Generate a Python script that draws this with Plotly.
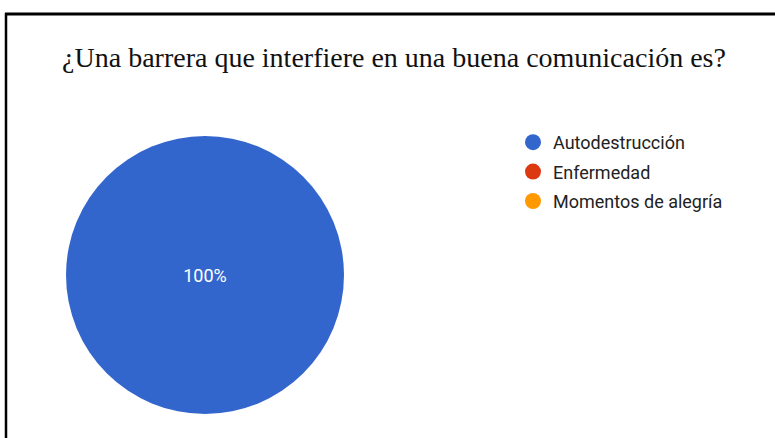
import plotly.graph_objects as go

categories = ["Autodestrucción", "Enfermedad", "Momentos de alegría"]
values = [100, 0, 0]
colors = ["#3366cc", "#dc3912", "#ff9900"]
title_text = "¿Una barrera que interfiere en una buena comunicación es?"

W, H = 775, 438
cx, cy, r = 205, 275, 139

fig = go.Figure()
fig.add_trace(go.Pie(
    labels=categories, values=values, sort=False, direction="clockwise",
    marker=dict(colors=colors, line=dict(width=0)),
    textinfo="percent", textposition="inside",
    insidetextfont=dict(family="Roboto, Arial", size=18, color="white"),
    showlegend=False,
    domain=dict(x=[(cx - r) / W, (cx + r) / W], y=[(H - cy - r) / H, (H - cy + r) / H]),
))
for i, (c, col) in enumerate(zip(categories, colors)):
    fig.add_trace(go.Scatter(
        x=[None], y=[None], mode="markers", name=c, legendgroup=f"g{i}",
        marker=dict(symbol="circle", size=16, color=col),
    ))

fig.update_layout(
    width=W, height=H, margin=dict(l=0, r=0, t=0, b=0),
    paper_bgcolor="white", plot_bgcolor="white",
    title=dict(text=title_text, x=394 / W, xanchor="center", y=1 - 57 / H, yanchor="middle",
               font=dict(family="Liberation Serif, Times New Roman, serif", size=28, color="#111")),
    xaxis=dict(visible=False), yaxis=dict(visible=False),
    legend=dict(x=513 / W, y=1 - 124 / H, xanchor="left", yanchor="top",
                font=dict(family="Roboto, Arial", size=18, color="#222"),
                tracegroupgap=3, bgcolor="rgba(0,0,0,0)"),
    shapes=[
        dict(type="line", xref="paper", yref="paper", x0=5 / W, x1=1, y0=1 - 14 / H, y1=1 - 14 / H,
             line=dict(color="black", width=3)),
        dict(type="line", xref="paper", yref="paper", x0=6 / W, x1=6 / W, y0=0, y1=1 - 13 / H,
             line=dict(color="black", width=2.5)),
    ],
)
fig.write_html("out.html", config={"displayModeBar": False},
               post_script="document.body.style.margin='0';")
